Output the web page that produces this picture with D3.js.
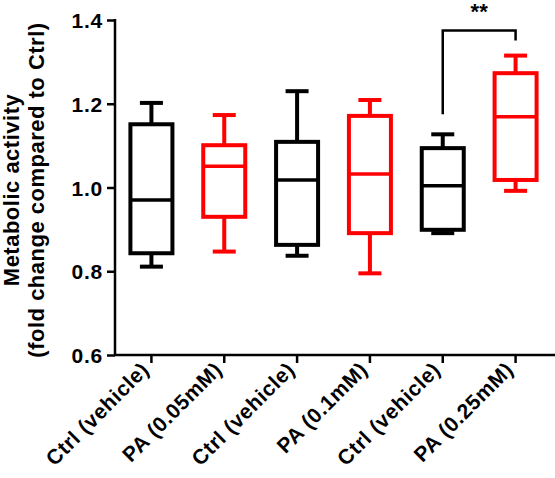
<!DOCTYPE html>
<html><head><meta charset="utf-8">
<script src="https://cdn.jsdelivr.net/npm/d3@7"></script>
<style>body{margin:0;background:#fff}svg{display:block}text{font-family:Arial,"Liberation Sans",sans-serif}</style>
</head><body><svg id="c" width="555" height="478"></svg>
<script>
const categories = ["Ctrl (vehicle)","PA (0.05mM)","Ctrl (vehicle)","PA (0.1mM)","Ctrl (vehicle)","PA (0.25mM)"];
const colors = ["#000000","#ff0000","#000000","#ff0000","#000000","#ff0000"];
const whiskerMin = [0.811,0.847,0.837,0.795,0.891,0.992];
const q1 = [0.843,0.930,0.863,0.891,0.899,1.018];
const median = [0.970,1.051,1.018,1.032,1.004,1.169];
const q3 = [1.151,1.101,1.109,1.171,1.094,1.273];
const whiskerMax = [1.202,1.173,1.230,1.209,1.127,1.315];
const yTicks = [0.6,0.8,1.0,1.2,1.4];
const sig = {from:4, to:5, label:"**", y:1.375};

(function(){
const svg = d3.select("#c");
const mL=115, mR=552, mT=20, mB=355;
const x = d3.scaleBand().domain(d3.range(categories.length)).range([mL,mR]).padding(0);
const y = d3.scaleLinear().domain([0.6,1.4]).range([mB,mT]);

const yAxis = svg.append("g").attr("transform",`translate(${mL},0)`)
  .call(d3.axisLeft(y).tickValues(yTicks).tickFormat(d3.format(".1f")).tickSize(8).tickSizeOuter(0));
yAxis.select(".domain").attr("stroke","#000").attr("stroke-width",2.5).attr("d",`M0,${mT-1}V${mB+1}`);
yAxis.selectAll(".tick line").attr("stroke","#000").attr("stroke-width",2.5);
yAxis.selectAll(".tick text").attr("font-size",21).attr("font-weight","bold").attr("fill","#000")
  .attr("x",-12).attr("dy","0.36em").attr("letter-spacing","0.8px");

const xAxis = svg.append("g").attr("transform",`translate(0,${mB})`)
  .call(d3.axisBottom(x).tickFormat(i=>categories[i]).tickSize(8).tickSizeOuter(0));
xAxis.select(".domain").attr("stroke","#000").attr("stroke-width",2.5).attr("d",`M${mL-1},0H555`);
xAxis.selectAll(".tick line").attr("stroke","#000").attr("stroke-width",2.5);
xAxis.selectAll(".tick text").attr("font-size",21).attr("font-weight","bold").attr("fill","#000")
  .attr("text-anchor","end").attr("dy",0).attr("y",0).attr("letter-spacing","0.6px")
  .attr("transform","translate(-1,16) rotate(-45)");

const bw = 42, cw = 23;
const g = svg.append("g");
categories.forEach((c,i)=>{
  const cx = x(i)+x.bandwidth()/2, col = colors[i];
  const gg = g.append("g").attr("stroke",col).attr("stroke-width",4).attr("fill","none");
  gg.append("line").attr("x1",cx).attr("x2",cx).attr("y1",y(whiskerMax[i])).attr("y2",y(q3[i]));
  gg.append("line").attr("x1",cx).attr("x2",cx).attr("y1",y(q1[i])).attr("y2",y(whiskerMin[i]));
  gg.append("line").attr("x1",cx-cw/2).attr("x2",cx+cw/2).attr("y1",y(whiskerMax[i])).attr("y2",y(whiskerMax[i]));
  gg.append("line").attr("x1",cx-cw/2).attr("x2",cx+cw/2).attr("y1",y(whiskerMin[i])).attr("y2",y(whiskerMin[i]));
  gg.append("rect").attr("x",cx-bw/2).attr("width",bw).attr("y",y(q3[i])).attr("height",y(q1[i])-y(q3[i]));
  gg.append("line").attr("x1",cx-bw/2).attr("x2",cx+bw/2).attr("y1",y(median[i])).attr("y2",y(median[i])).attr("stroke-width",3.5);
});

const sx1 = x(sig.from)+x.bandwidth()/2, sx2 = x(sig.to)+x.bandwidth()/2;
svg.append("path").attr("fill","none").attr("stroke","#000").attr("stroke-width",2.5)
  .attr("d",`M${sx1},${y(whiskerMax[sig.from])-20}V${y(sig.y)}H${sx2}V${y(sig.y)+10}`);
svg.append("text").attr("x",(sx1+sx2)/2).attr("y",y(sig.y)-11).attr("text-anchor","middle")
  .attr("font-size",22).attr("font-weight","bold").text(sig.label);

const tg = svg.append("g").attr("transform","translate(0,190) rotate(-90)");
tg.append("text").attr("x",0).attr("y",19).attr("text-anchor","middle").attr("font-size",22).attr("font-weight","bold").attr("letter-spacing","0.5px").text("Metabolic activity");
tg.append("text").attr("x",0).attr("y",44).attr("text-anchor","middle").attr("font-size",22).attr("font-weight","bold").attr("letter-spacing","0.5px").text("(fold change compared to Ctrl)");
})();
</script></body></html>
